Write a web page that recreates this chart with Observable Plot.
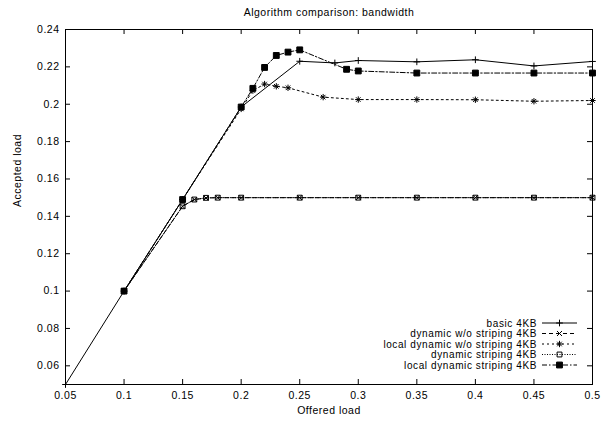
<!DOCTYPE html>
<html><head><meta charset="utf-8">
<script src="https://cdn.jsdelivr.net/npm/d3@7"></script>
<script src="https://cdn.jsdelivr.net/npm/@observablehq/plot@0.6"></script>
<style>
body{margin:0;background:#fff}
#chart svg{font-family:"Liberation Sans",Arial,sans-serif}
</style>
</head><body><div id="chart"></div>
<script>
// ---- data ----
const title = "Algorithm comparison: bandwidth";
const xLabel = "Offered load";
const yLabel = "Accepted load";
const seriesNames = ["basic 4KB", "dynamic w/o striping 4KB", "local dynamic w/o striping 4KB", "dynamic striping 4KB", "local dynamic striping 4KB"];

const basicX = [0.05, 0.1, 0.15, 0.2, 0.25, 0.28, 0.3, 0.35, 0.4, 0.45, 0.5];
const basicY = [0.05, 0.1, 0.149, 0.1985, 0.223, 0.2221, 0.2234, 0.2227, 0.2238, 0.2205, 0.2229];

const dynNoStripX = [0.1, 0.15, 0.16, 0.17, 0.18, 0.2, 0.25, 0.3, 0.35, 0.4, 0.45, 0.5];
const dynNoStripY = [0.1, 0.1454, 0.149, 0.1498, 0.15, 0.15, 0.15, 0.15, 0.15, 0.15, 0.15, 0.15];

const localNoStripX = [0.1, 0.15, 0.2, 0.21, 0.22, 0.23, 0.24, 0.27, 0.3, 0.35, 0.4, 0.45, 0.5];
const localNoStripY = [0.1, 0.149, 0.1975, 0.2073, 0.2108, 0.2096, 0.2088, 0.2038, 0.2025, 0.2025, 0.2024, 0.2016, 0.202];

const dynStripX = [0.1, 0.15, 0.16, 0.17, 0.18, 0.2, 0.25, 0.3, 0.35, 0.4, 0.45, 0.5];
const dynStripY = [0.1, 0.1454, 0.149, 0.1499, 0.15, 0.15, 0.15, 0.15, 0.15, 0.15, 0.15, 0.15];

const localStripX = [0.1, 0.15, 0.2, 0.21, 0.22, 0.23, 0.24, 0.25, 0.29, 0.3, 0.35, 0.4, 0.45, 0.5];
const localStripY = [0.1, 0.149, 0.1985, 0.2085, 0.2197, 0.2261, 0.2279, 0.2291, 0.2187, 0.2178, 0.2167, 0.2167, 0.2167, 0.2167];

const xTickLabels = ["0.05", "0.1", "0.15", "0.2", "0.25", "0.3", "0.35", "0.4", "0.45", "0.5"];
const yTickLabels = ["0.06", "0.08", "0.1", "0.12", "0.14", "0.16", "0.18", "0.2", "0.22", "0.24"];

// ---- styles ----
const seriesXs = [basicX, dynNoStripX, localNoStripX, dynStripX, localStripX];
const seriesYs = [basicY, dynNoStripY, localNoStripY, dynStripY, localStripY];
const seriesStyle = [
  {dash: null, symbols: [{s: "plus", r: 2.3, fill: "none"}]},
  {dash: "4,3", symbols: [{s: "times", r: 2.4, fill: "none"}]},
  {dash: "2,3", symbols: [{s: "plus", r: 2.2, fill: "none"}, {s: "times", r: 2.2, fill: "none"}]},
  {dash: "1,1.5", symbols: [{s: "square2", r: 3.1, fill: "none"}]},
  {dash: "5,2,1.5,2", symbols: [{s: "square", r: 3.3, fill: "black"}]}
];

const W = 608, H = 423;
const mL = 65, mR = 16, mT = 29, mB = 39;
const pw = W - mL - mR, ph = H - mT - mB;
const xTicks = xTickLabels.map(Number);
const yTicks = yTickLabels.map(Number);
const fontStyle = {fontFamily: '"Liberation Sans", Arial, sans-serif', fontSize: "10.5px", letterSpacing: "0.5px", color: "black", background: "white", overflow: "visible"};

const marks = [];
seriesNames.forEach((name, i) => {
  const rows = seriesXs[i].map((x, j) => ({series: name, x, y: seriesYs[i][j]}));
  const st = seriesStyle[i];
  marks.push(Plot.line(rows, {x: "x", y: "y", stroke: "black", strokeWidth: 1, strokeDasharray: st.dash}));
  st.symbols.forEach(sym => {
    marks.push(Plot.dot(rows, {x: "x", y: "y", symbol: sym.s, r: sym.r, stroke: "black", fill: sym.fill, strokeWidth: 1}));
  });
});

const chart = Plot.plot({
  width: W, height: H,
  marginLeft: mL, marginRight: mR, marginTop: mT, marginBottom: mB,
  style: fontStyle,
  x: {domain: [0.05, 0.5], label: null},
  y: {domain: [0.05, 0.24], label: null},
  marks: [
    Plot.tickX(xTicks, {x: d => d, insetTop: ph - 5, stroke: "black"}),
    Plot.tickX(xTicks, {x: d => d, insetBottom: ph - 5, stroke: "black"}),
    Plot.tickY(yTicks, {y: d => d, insetLeft: pw - 5, stroke: "black"}),
    Plot.tickY(yTicks, {y: d => d, insetRight: pw - 5, stroke: "black"}),
    Plot.axisX(xTicks, {tickSize: 0, tickPadding: 7, tickFormat: (d, i) => xTickLabels[i], label: null}),
    Plot.axisY(yTicks, {tickSize: 0, tickPadding: 6, tickFormat: (d, i) => yTickLabels[i], label: null}),
    ...marks,
    Plot.frame({stroke: "black", strokeWidth: 1}),
    Plot.text([title], {text: d => d, frameAnchor: "top", dy: -17, lineAnchor: "middle"}),
    Plot.text([xLabel], {text: d => d, frameAnchor: "bottom", dy: 26, lineAnchor: "middle"}),
    Plot.text([yLabel], {text: d => d, frameAnchor: "left", dx: -48, rotate: -90, lineAnchor: "middle"})
  ]
});
document.getElementById("chart").appendChild(chart);

// ---- legend (inside plot, lower right) ----
const svg = d3.select(chart);
const lg = svg.append("g").attr("font-family", '"Liberation Sans", Arial, sans-serif').attr("font-size", 10).attr("letter-spacing", "0.6px");
const legTextX = 537, legLine0 = 542, legLine1 = 577, legY0 = 323, legDy = 10.5;
const symMap = {plus: d3.symbolPlus, times: d3.symbolTimes, square: d3.symbolSquare, square2: d3.symbolSquare2};
seriesNames.forEach((name, i) => {
  const y = legY0 + i * legDy;
  const st = seriesStyle[i];
  lg.append("text").attr("x", legTextX).attr("y", y).attr("dy", "0.35em").attr("text-anchor", "end").attr("fill", "black").text(name);
  lg.append("line").attr("x1", legLine0).attr("x2", legLine1).attr("y1", y).attr("y2", y)
    .attr("stroke", "black").attr("stroke-width", 1).attr("stroke-dasharray", st.dash);
  st.symbols.forEach(sym => {
    lg.append("path").attr("transform", `translate(${(legLine0 + legLine1) / 2},${y})`)
      .attr("d", d3.symbol(symMap[sym.s], Math.PI * sym.r * sym.r)())
      .attr("fill", sym.fill).attr("stroke", "black").attr("stroke-width", 1);
  });
});
</script>
</body></html>
